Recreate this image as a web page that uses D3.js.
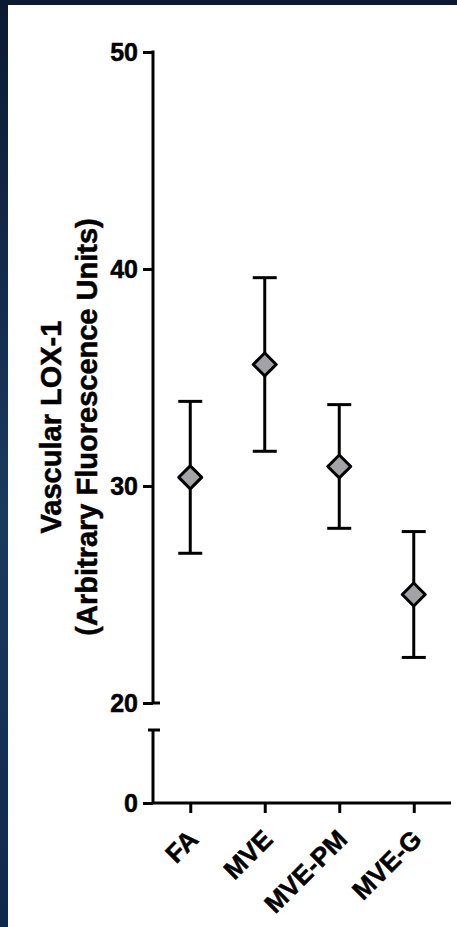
<!DOCTYPE html>
<html>
<head>
<meta charset="utf-8">
<script src="https://cdn.jsdelivr.net/npm/d3@7"></script>
<style>
  html, body { margin: 0; padding: 0; background: #ffffff; }
  svg { display: block; }
  text { font-family: "Liberation Sans", Arial, sans-serif; font-weight: bold; fill: #000; stroke: #000; stroke-width: 0.5px; }
</style>
</head>
<body>
<script>
// Vascular LOX-1 by group: mean ± SEM
const groups = ["FA", "MVE", "MVE-PM", "MVE-G"];
const means  = [30.4, 35.6, 30.9, 25.0];
const sems   = [3.5, 4.0, 2.85, 2.9];
const upperTicks = [20, 30, 40, 50];
const lowerTicks = [0];
const titleLines = ["Vascular LOX-1", "(Arbitrary Fluorescence Units)"];

const W = 457, H = 927;
const svg = d3.select("body").append("svg").attr("width", W).attr("height", H);

// slide frame
const defs = svg.append("defs");
const grad = defs.append("linearGradient").attr("id", "frame")
  .attr("x1", 0).attr("y1", 0).attr("x2", 0).attr("y2", 1);
grad.append("stop").attr("offset", "0%").attr("stop-color", "#0b1a31");
grad.append("stop").attr("offset", "55%").attr("stop-color", "#1b3a60");
grad.append("stop").attr("offset", "100%").attr("stop-color", "#10284a");
svg.append("rect").attr("width", W).attr("height", H).attr("fill", "url(#frame)");
svg.append("rect").attr("x", 0).attr("y", 0).attr("width", W).attr("height", 5).attr("fill", "#0b1a31");
svg.append("rect").attr("x", 8).attr("y", 5).attr("width", W - 8).attr("height", H - 5).attr("fill", "#ffffff");

// geometry
const axisX = 153, axisRight = 451, baseY = 803;
const x = d3.scalePoint().domain(groups).range([axisX, axisRight]).padding(0.5);
const yUpper = d3.scaleLinear().domain([20, 50]).range([703, 52]);
const yLower = d3.scaleLinear().domain([0, 3.4]).range([baseY, 730]);

const sw = 3;
const g = svg.append("g");

// broken y axis: upper segment
const upperAxis = g.append("g").attr("transform", `translate(${axisX},0)`)
  .call(d3.axisLeft(yUpper).tickValues(upperTicks).tickSize(10).tickPadding(5).tickFormat(d3.format("d")));
// lower segment
const lowerAxis = g.append("g").attr("transform", `translate(${axisX},0)`)
  .call(d3.axisLeft(yLower).tickValues(lowerTicks).tickSize(10).tickPadding(5).tickFormat(d3.format("d")));
[upperAxis, lowerAxis].forEach(a => {
  a.select(".domain").remove();
  a.selectAll(".tick line").attr("stroke", "#000").attr("stroke-width", sw);
  a.selectAll(".tick text").style("font-size", "25px").attr("fill", "#000");
});
g.append("line").attr("x1", axisX).attr("x2", axisX)
  .attr("y1", yUpper(50) - sw / 2).attr("y2", yUpper(20))
  .attr("stroke", "#000").attr("stroke-width", sw);
g.append("line").attr("x1", axisX).attr("x2", axisX)
  .attr("y1", yLower.range()[1]).attr("y2", baseY)
  .attr("stroke", "#000").attr("stroke-width", sw);
// break caps
g.append("line").attr("x1", axisX - 1).attr("x2", axisX + 7)
  .attr("y1", yUpper(20)).attr("y2", yUpper(20)).attr("stroke", "#000").attr("stroke-width", sw);
g.append("line").attr("x1", axisX - 5).attr("x2", axisX + 7)
  .attr("y1", yLower.range()[1]).attr("y2", yLower.range()[1]).attr("stroke", "#000").attr("stroke-width", sw);

// x axis
const xAxis = g.append("g").attr("transform", `translate(0,${baseY})`)
  .call(d3.axisBottom(x).tickSize(10).tickPadding(0));
xAxis.select(".domain").remove();
xAxis.selectAll(".tick line").attr("stroke", "#000").attr("stroke-width", sw);
xAxis.selectAll(".tick text")
  .style("font-size", "26px")
  .attr("text-anchor", "end")
  .attr("dy", 0).attr("y", 0)
  .attr("transform", "translate(9,38) rotate(-45)");
g.append("line").attr("x1", axisX - 1).attr("x2", axisRight)
  .attr("y1", baseY).attr("y2", baseY).attr("stroke", "#000").attr("stroke-width", sw);

// y title
const title = svg.append("text")
  .attr("transform", `translate(0,427) rotate(-90)`)
  .attr("text-anchor", "middle")
  .style("font-size", "29px");
title.selectAll("tspan").data(titleLines).join("tspan")
  .attr("x", 0).attr("y", (d, i) => 61 + i * 36)
  .text(d => d);

// error bars
const capHalf = 12;
const bars = g.selectAll(".err").data(groups).join("g").attr("class", "err");
bars.append("line")
  .attr("x1", d => x(d)).attr("x2", d => x(d))
  .attr("y1", (d, i) => yUpper(means[i] + sems[i]))
  .attr("y2", (d, i) => yUpper(means[i] - sems[i]))
  .attr("stroke", "#000").attr("stroke-width", sw);
bars.append("line")
  .attr("x1", d => x(d) - capHalf).attr("x2", d => x(d) + capHalf)
  .attr("y1", (d, i) => yUpper(means[i] + sems[i]))
  .attr("y2", (d, i) => yUpper(means[i] + sems[i]))
  .attr("stroke", "#000").attr("stroke-width", sw);
bars.append("line")
  .attr("x1", d => x(d) - capHalf).attr("x2", d => x(d) + capHalf)
  .attr("y1", (d, i) => yUpper(means[i] - sems[i]))
  .attr("y2", (d, i) => yUpper(means[i] - sems[i]))
  .attr("stroke", "#000").attr("stroke-width", sw);

// diamond markers
const diamond = d3.symbol().type(d3.symbolSquare).size(2 * 11.5 * 11.5);
g.selectAll(".pt").data(groups).join("path").attr("class", "pt")
  .attr("d", diamond)
  .attr("transform", (d, i) => `translate(${x(d)},${yUpper(means[i])}) rotate(45)`)
  .attr("fill", "#a2a2a7").attr("stroke", "#000").attr("stroke-width", sw)
  .attr("stroke-linejoin", "round");
</script>
</body>
</html>
